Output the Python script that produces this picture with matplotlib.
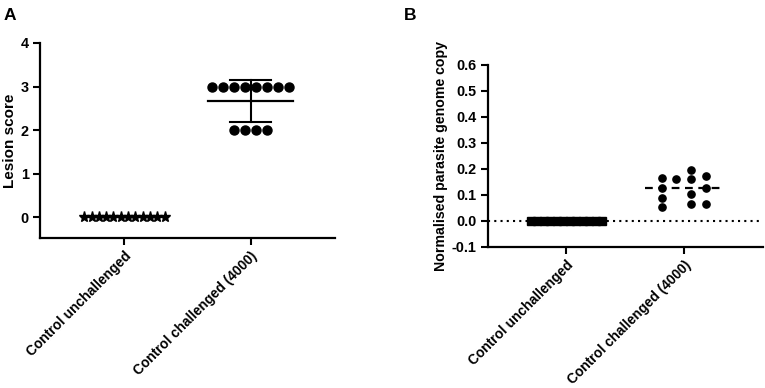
import numpy as np
import matplotlib.pyplot as plt
from matplotlib.ticker import FormatStrFormatter

plt.rcParams['font.family'] = ['Liberation Sans', 'DejaVu Sans']
plt.rcParams['font.weight'] = 'bold'
plt.rcParams['axes.unicode_minus'] = False

groups = ['Control unchallenged', 'Control challenged (4000)']

# panel A - lesion scores
lesion_unch = [0] * 12
lesion_chal = [3, 3, 3, 3, 3, 3, 3, 3, 2, 2, 2, 2]

# panel B - normalised parasite genome copy
copy_unch = [0.0] * 12
copy_chal = [0.164, 0.127, 0.088, 0.054, 0.163, 0.198, 0.163, 0.103, 0.067, 0.173, 0.128, 0.067]
copy_jitter = [-0.19, -0.19, -0.19, -0.19, -0.068, 0.06, 0.06, 0.06, 0.06, 0.184, 0.184, 0.184]

fig = plt.figure(figsize=(7.65, 3.88), dpi=100)
axA = fig.add_axes([40/765, 1-238/388, 295/765, 195/388])
axB = fig.add_axes([487.7/765, 1-247/388, 275/765, 182/388])


def row_offsets(vals, step):
    vals = np.asarray(vals)
    xs = np.zeros(len(vals))
    for v in np.unique(vals):
        idx = np.where(vals == v)[0]
        xs[idx] = (np.arange(len(idx)) - (len(idx)-1)/2) * step
    return xs


for ax in (axA, axB):
    ax.spines['top'].set_visible(False)
    ax.spines['right'].set_visible(False)
    for s in ('left', 'bottom'):
        ax.spines[s].set_linewidth(1.6)
    ax.tick_params(width=1.5, length=5, labelsize=10.4, pad=3)
    ax.set_xticks([0, 1])
    ax.set_xticklabels(groups, rotation=45, ha='right', rotation_mode='anchor',
                       fontweight='bold', fontsize=9.9)
    ax.set_xlim(-0.67, 1.67)

# ---- A ----
xs0 = row_offsets(lesion_unch, 0.058)
axA.plot(xs0, lesion_unch, '*', color='black', ms=8, zorder=3)
xs1 = 1 + row_offsets(lesion_chal, 0.087)
axA.plot(xs1, lesion_chal, 'o', color='black', ms=6.5, zorder=3)
for i, vals in enumerate([lesion_unch, lesion_chal]):
    m = np.mean(vals)
    sd = np.std(vals, ddof=1)
    axA.plot([i-0.34, i+0.34], [m, m], color='black', lw=1.6, zorder=4)
    axA.plot([i, i], [m-sd, m+sd], color='black', lw=1.5, zorder=4)
    for y in (m-sd, m+sd):
        axA.plot([i-0.16, i+0.16], [y, y], color='black', lw=1.5, zorder=4)
axA.set_ylim(-0.48, 4)
axA.set_yticks([0, 1, 2, 3, 4])
axA.spines['left'].set_bounds(-0.48, 4)
axA.set_ylabel('Lesion score', fontsize=11, fontweight='bold', labelpad=3)

# ---- B ----
axB.axhline(0, color='black', lw=1.5, ls=(0, (1, 2)), zorder=1)
xb0 = row_offsets(copy_unch, 0.0555)
axB.plot(xb0, copy_unch, 's', color='black', ms=5.2, zorder=3)
axB.plot(1 + np.array(copy_jitter), copy_chal, 'o', color='black', ms=5.2, zorder=3)
med = np.median(copy_chal)
axB.plot([0.67, 1.33], [med, med], color='black', lw=1.6, ls=(0, (3.5, 2.5)), zorder=4)
axB.set_ylim(-0.1, 0.6)
axB.set_yticks(np.arange(-0.1, 0.61, 0.1))
axB.yaxis.set_major_formatter(FormatStrFormatter('%.1f'))
axB.set_ylabel('Normalised parasite genome copy', fontsize=10.2, fontweight='bold', labelpad=3)

fig.text(4/765, 1-20/388, 'A', fontsize=12.5, fontweight='bold')
fig.text(404/765, 1-20/388, 'B', fontsize=12.5, fontweight='bold')

fig.savefig('out.png', dpi=100)
